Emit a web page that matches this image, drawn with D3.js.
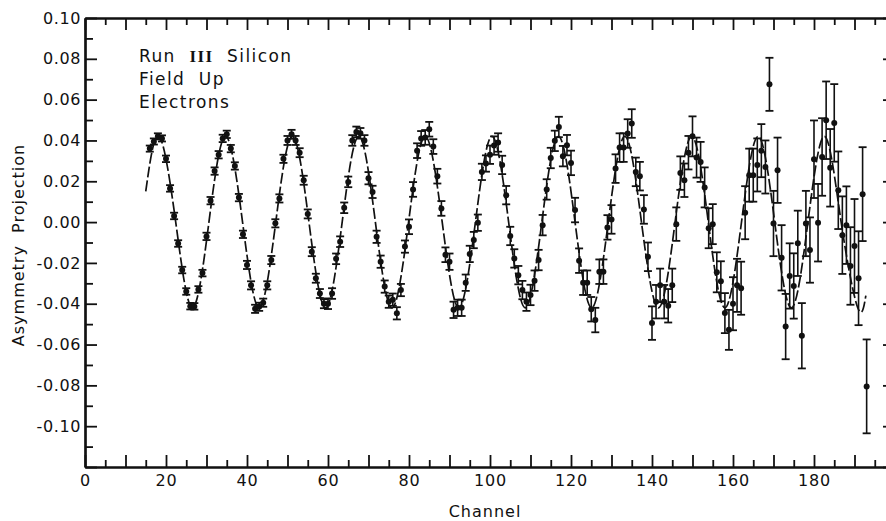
<!DOCTYPE html>
<html>
<head>
<meta charset="utf-8">
<script src="https://cdn.jsdelivr.net/npm/d3@7"></script>
<style>
  body { margin: 0; background: #fff; }
  text { font-family: "DejaVu Sans", sans-serif; fill: #111; }
</style>
</head>
<body>
<svg id="chart" width="886" height="521"></svg>
<script>
// asymmetry projection, one point per channel starting at channel 16
const firstChannel = 16;
const asymmetry = [
  0.036, 0.0395, 0.042, 0.041, 0.031, 0.0165, 0.003, -0.0105, -0.0235, -0.034,      // 16-25
  -0.0412, -0.0413, -0.033, -0.025, -0.007, 0.0105, 0.025, 0.033, 0.041, 0.043,     // 26-35
  0.036, 0.0275, 0.012, -0.006, -0.021, -0.031, -0.0425, -0.0415, -0.0395, -0.031,  // 36-45
  -0.0186, -0.0006, 0.0116, 0.031, 0.040, 0.043, 0.040, 0.034, 0.0205, 0.004,       // 46-55
  -0.0145, -0.0275, -0.035, -0.040, -0.040, -0.035, -0.018, -0.0096, 0.007, 0.0197, // 56-65
  0.040, 0.0442, 0.0435, 0.040, 0.0215, 0.0148, -0.0072, -0.0194, -0.0316, -0.039,  // 66-75
  -0.038, -0.0447, -0.0333, -0.012, -0.0023, 0.016, 0.035, 0.041, 0.0415, 0.0455,   // 76-85
  0.037, 0.0225, 0.0067, -0.016, -0.0194, -0.043, -0.042, -0.042, -0.0297, -0.0156, // 86-95
  -0.0088, -0.0003, 0.0246, 0.0287, 0.033, 0.0375, 0.039, 0.028, 0.0132, -0.0068,   // 96-105
  -0.0178, -0.026, -0.0333, -0.039, -0.0357, -0.0287, -0.0186, -0.0015, 0.016, 0.0314, // 106-115
  0.0398, 0.0466, 0.0323, 0.0377, 0.029, 0.0059, -0.0189, -0.0297, -0.0297, -0.0427, // 116-125
  -0.048, -0.0243, -0.0243, -0.0026, 0.0013, 0.0262, 0.0365, 0.0365, 0.0434, 0.0483, // 126-135
  0.0246, 0.0225, 0.0062, -0.017, -0.0495, -0.039, -0.031, -0.039, -0.041, -0.031,  // 136-145
  -0.001, 0.024, 0.0205, 0.034, 0.042, 0.0316, 0.0295, 0.017, -0.003, -0.001,       // 146-155
  -0.0246, -0.029, -0.0446, -0.0528, -0.040, -0.031, -0.0324, 0.0046, 0.023, 0.023, // 156-165
  0.028, 0.035, 0.027, 0.0675, -0.0007, 0.0254, -0.0175, -0.0512, -0.0264, -0.0313, // 166-175
  -0.0104, -0.0557, -0.0007, -0.0137, 0.0308, -0.0003, 0.0319, 0.0499, 0.0266, 0.0486, // 176-185
  0.0156, -0.0064, -0.0015, -0.0215, -0.0117, -0.0275, 0.0137, -0.0805             // 186-193
];

// error bar half length, read per block of ten channels (10-19, 20-29, ...)
const errBlockStart = 10;
const errBlocks = [0.0015, 0.0016, 0.0018, 0.002, 0.0022, 0.0026, 0.003, 0.0036, 0.004, 0.0045,
                   0.005, 0.006, 0.007, 0.0082, 0.0098, 0.013, 0.016, 0.019, 0.023];

// dashed fit curve, knots read at peaks / zero crossings / troughs
const fitChannel = [15, 18.3, 22.4, 26.5, 30.6, 34.7, 38.9, 43.0, 47.1, 51.2, 55.3, 59.4, 63.5,
  67.6, 71.7, 75.8, 79.9, 84.0, 88.2, 92.3, 96.4, 100.5, 104.6, 108.7, 112.8, 116.9, 121.0,
  125.1, 129.2, 133.3, 137.4, 141.6, 145.7, 149.8, 153.9, 158.0, 162.1, 166.2, 170.3, 174.4,
  178.5, 182.6, 186.7, 190.8, 192.8];
const fitValue = [0.015, 0.042, 0, -0.042, 0, 0.042, 0, -0.042, 0, 0.042, 0, -0.042, 0,
  0.042, 0, -0.042, 0, 0.042, 0, -0.042, 0, 0.042, 0, -0.042, 0, 0.042, 0,
  -0.042, 0, 0.042, 0, -0.042, 0, 0.042, 0, -0.042, 0, 0.042, 0, -0.042,
  0, 0.042, 0, -0.042, -0.036];

const xTickLabels = [0, 20, 40, 60, 80, 100, 120, 140, 160, 180];
const yTickLabels = [0.10, 0.08, 0.06, 0.04, 0.02, 0.00, -0.02, -0.04, -0.06, -0.08, -0.10];
const notes = [["Run  ", "III", "  Silicon"], ["Field  Up"], ["Electrons"]];

const svg = d3.select("#chart");
svg.append("rect").attr("width", 886).attr("height", 521).attr("fill", "#fff");

const x = d3.scaleLinear().domain([0, 200]).range([85, 895]);
const y = d3.scaleLinear().domain([-0.12, 0.10]).range([467, 18]);

const ink = "#111";
const majorX = d3.range(0, 201, 10), minorX = d3.range(5, 200, 10);
const majorY = d3.range(-12, 11, 2).map(d => d / 100), minorY = d3.range(-11, 10, 2).map(d => d / 100);

function frame(g, axis, values, size) {
  g.call(axis.tickValues(values).tickSizeInner(size).tickSizeOuter(0).tickFormat(""));
  g.select(".domain").attr("stroke", ink).attr("stroke-width", 2.2);
  g.selectAll(".tick line").attr("stroke", ink).attr("stroke-width", 1.8);
}

const bottomY = y.range()[0], topY = y.range()[1];
frame(svg.append("g").attr("transform", `translate(0,${bottomY})`), d3.axisBottom(x), majorX, -12);
frame(svg.append("g").attr("transform", `translate(0,${bottomY})`), d3.axisBottom(x), minorX, -7);
frame(svg.append("g").attr("transform", `translate(0,${topY})`), d3.axisTop(x), majorX, -12);
frame(svg.append("g").attr("transform", `translate(0,${topY})`), d3.axisTop(x), minorX, -7);
frame(svg.append("g").attr("transform", `translate(${x(0)},0)`), d3.axisLeft(y), majorY, -12);
frame(svg.append("g").attr("transform", `translate(${x(0)},0)`), d3.axisLeft(y), minorY, -8);
frame(svg.append("g").attr("transform", `translate(${x(200)},0)`), d3.axisRight(y), majorY, -12);
frame(svg.append("g").attr("transform", `translate(${x(200)},0)`), d3.axisRight(y), minorY, -8);

// tick labels
const xl = svg.append("g").attr("transform", `translate(0,${bottomY})`)
  .call(d3.axisBottom(x).tickValues(xTickLabels).tickSize(0).tickPadding(8).tickFormat(d3.format("d")));
xl.select(".domain").remove();
xl.selectAll("text").attr("font-size", 16).attr("letter-spacing", 0.8)
  .attr("font-family", "DejaVu Sans").attr("fill", ink);

const fmtY = d => (d < 0 ? "-" : "") + Math.abs(d).toFixed(2);
const yl = svg.append("g").attr("transform", `translate(${x(0)},0)`)
  .call(d3.axisLeft(y).tickValues(yTickLabels).tickSize(0).tickPadding(4).tickFormat(fmtY));
yl.select(".domain").remove();
yl.selectAll("text").attr("font-size", 16).attr("letter-spacing", 0.6)
  .attr("font-family", "DejaVu Sans").attr("fill", ink);

// axis titles
svg.append("text").attr("x", 485).attr("y", 517).attr("text-anchor", "middle")
  .attr("font-size", 16).attr("letter-spacing", 1).text("Channel");
svg.append("text").attr("transform", "translate(24,245) rotate(-90)").attr("text-anchor", "middle")
  .attr("font-size", 16).attr("letter-spacing", 1).style("white-space", "pre")
  .text("Asymmetry  Projection");

// annotation (roman numeral set in a serif face as in the original)
const nt = svg.append("g").selectAll("text").data(notes).join("text")
  .attr("x", 139).attr("y", (d, i) => 62 + i * 23)
  .attr("font-size", 17).attr("letter-spacing", 1.4).style("white-space", "pre");
nt.selectAll("tspan").data(d => d).join("tspan")
  .attr("font-family", p => p === "III" ? "Liberation Serif" : null)
  .attr("font-weight", p => p === "III" ? "bold" : null)
  .text(p => p);

// fit curve
const fitPts = fitChannel.map((c, i) => [c, fitValue[i]]);
svg.append("path")
  .attr("d", d3.line().x(d => x(d[0])).y(d => y(d[1])).curve(d3.curveNatural)(fitPts))
  .attr("fill", "none").attr("stroke", ink).attr("stroke-width", 1.7)
  .attr("stroke-dasharray", "11,3");

// data with error bars
const points = asymmetry.map((v, i) => {
  const ch = firstChannel + i;
  return { ch, v, e: errBlocks[Math.floor((ch - errBlockStart) / 10)] };
});
const pg = svg.append("g").selectAll("g").data(points).join("g");
pg.append("line")
  .attr("x1", d => x(d.ch)).attr("x2", d => x(d.ch))
  .attr("y1", d => y(d.v - d.e)).attr("y2", d => y(d.v + d.e))
  .attr("stroke", ink).attr("stroke-width", 1.6);
[-1, 1].forEach(s => {
  pg.append("line")
    .attr("x1", d => x(d.ch) - 4).attr("x2", d => x(d.ch) + 4)
    .attr("y1", d => y(d.v + s * d.e)).attr("y2", d => y(d.v + s * d.e))
    .attr("stroke", ink).attr("stroke-width", 1.8);
});
pg.append("circle").attr("cx", d => x(d.ch)).attr("cy", d => y(d.v)).attr("r", 3).attr("fill", ink);
</script>
</body>
</html>
